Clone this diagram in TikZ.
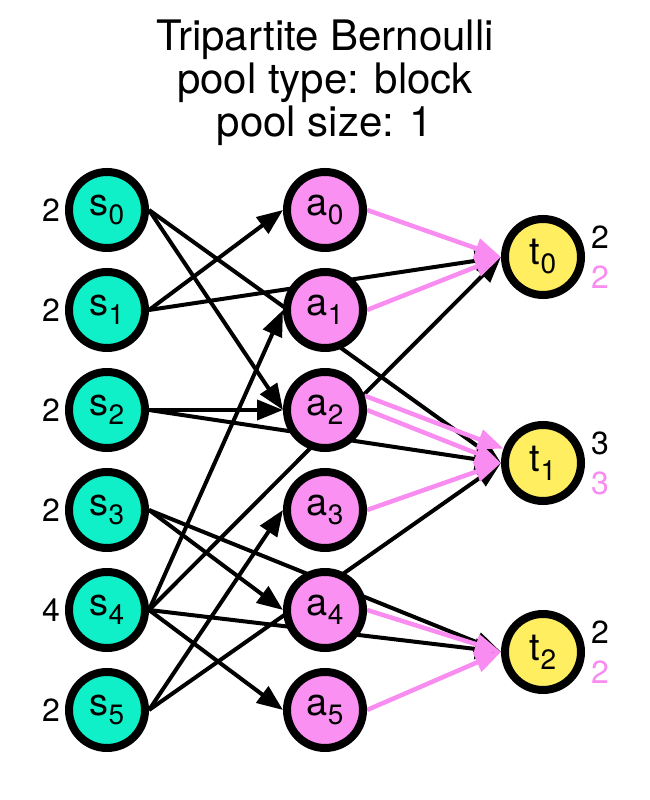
\documentclass[tikz,border=0pt]{standalone}
\usepackage{fontspec}
\setmainfont{TeX Gyre Heros}
\usetikzlibrary{arrows.meta}
\usetikzlibrary{positioning}
\usetikzlibrary{backgrounds}
\definecolor{srcfill}{RGB}{16,240,200}
\definecolor{midfill}{RGB}{250,145,242}
\definecolor{sinkfill}{RGB}{255,238,96}
\definecolor{pinkedge}{RGB}{248,140,240}
\newcommand{\vlabel}[2]{{\fontsize{38}{38}\selectfont #1}\raisebox{-9pt}{\fontsize{28}{28}\selectfont #2}}

\begin{document}
\begin{tikzpicture}[x=1pt,y=1pt]
        \tikzset{vertex/.style = {shape=circle,draw,line width=8pt,minimum size=76pt,inner sep=0pt}}
        \tikzset{edge/.style = {-{Triangle[length=26pt,width=20pt]},line width=4pt}}
        \tikzset{pinkline/.style = {edge,draw=pinkedge,line width=4.5pt}}
        \tikzset{count/.style = {font=\fontsize{32}{32}\selectfont,inner sep=2pt}}
        \useasboundingbox (0,0) rectangle (650,800);

        \node[align=center,font=\fontsize{42}{43}\selectfont] (title) at (325,717)
            {Tripartite Bernoulli\\pool type: block\\pool size: 1};

        \node[vertex,fill=srcfill] (s0) at (107,590) {\vlabel{s}{0}};
        \node[vertex,fill=srcfill] (s1) at (107,490) {\vlabel{s}{1}};
        \node[vertex,fill=srcfill] (s2) at (107,390) {\vlabel{s}{2}};
        \node[vertex,fill=srcfill] (s3) at (107,290) {\vlabel{s}{3}};
        \node[vertex,fill=srcfill] (s4) at (107,190) {\vlabel{s}{4}};
        \node[vertex,fill=srcfill] (s5) at (107,90) {\vlabel{s}{5}};

        \node[vertex,fill=midfill] (a0) at (325,590) {\vlabel{a}{0}};
        \node[vertex,fill=midfill] (a1) at (325,490) {\vlabel{a}{1}};
        \node[vertex,fill=midfill] (a2) at (325,390) {\vlabel{a}{2}};
        \node[vertex,fill=midfill] (a3) at (325,290) {\vlabel{a}{3}};
        \node[vertex,fill=midfill] (a4) at (325,190) {\vlabel{a}{4}};
        \node[vertex,fill=midfill] (a5) at (325,90) {\vlabel{a}{5}};

        \node[vertex,fill=sinkfill] (t0) at (543,543) {\vlabel{t}{0}};
        \node[vertex,fill=sinkfill] (t1) at (543,337) {\vlabel{t}{1}};
        \node[vertex,fill=sinkfill] (t2) at (543,148) {\vlabel{t}{2}};

        % degrees of the sources
        \node[count,left=3pt of s0] (n0) {2};
        \node[count,left=3pt of s1] (n1) {2};
        \node[count,left=3pt of s2] (n2) {2};
        \node[count,left=3pt of s3] (n3) {2};
        \node[count,left=3pt of s4] (n4) {4};
        \node[count,left=3pt of s5] (n5) {2};

        % demands of the sinks
        \node[count,anchor=west] (d0) at ([xshift=4pt,yshift=20pt]t0.east) {2};
        \node[count,anchor=west,text=pinkedge] (e0) at ([xshift=4pt,yshift=-20pt]t0.east) {2};
        \node[count,anchor=west] (d1) at ([xshift=4pt,yshift=20pt]t1.east) {3};
        \node[count,anchor=west,text=pinkedge] (e1) at ([xshift=4pt,yshift=-20pt]t1.east) {3};
        \node[count,anchor=west] (d2) at ([xshift=4pt,yshift=20pt]t2.east) {2};
        \node[count,anchor=west,text=pinkedge] (e2) at ([xshift=4pt,yshift=-20pt]t2.east) {2};

        \begin{scope}[on background layer]
        \draw[edge] (s0.east) -- (a2.west);
        \draw[edge] (s0.east) -- (t1.west);
        \draw[edge] (s1.east) -- (a0.west);
        \draw[edge] (s1.east) -- (t0.west);
        \draw[edge] (s2.east) -- (a2.west);
        \draw[edge] (s2.east) -- (t1.west);
        \draw[edge] (s3.east) -- (a4.west);
        \draw[edge] (s3.east) -- (t2.west);
        \draw[edge] (s4.east) -- (a1.west);
        \draw[edge] (s4.east) -- (t0.west);
        \draw[edge] (s4.east) -- (t2.west);
        \draw[edge] (s4.east) -- (a5.west);
        \draw[edge] (s5.east) -- (a3.west);
        \draw[edge] (s5.east) -- (t1.west);

        \draw[pinkline] (a0.east) -- (t0.west);
        \draw[pinkline] (a1.east) -- (t0.west);
        \draw[pinkline] (a2.20) -- (t1.160);
        \draw[pinkline] (a2.east) -- (t1.west);
        \draw[pinkline] (a3.east) -- (t1.west);
        \draw[pinkline] (a4.east) -- (t2.west);
        \draw[pinkline] (a5.east) -- (t2.west);
        \end{scope}
    \end{tikzpicture}
\end{document}
